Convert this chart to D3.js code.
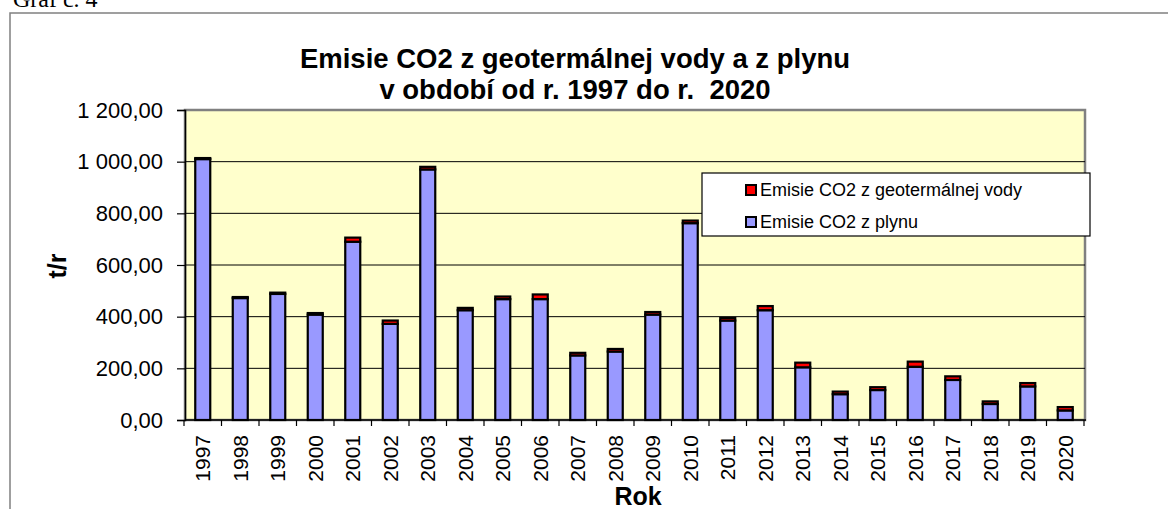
<!DOCTYPE html>
<html>
<head>
<meta charset="utf-8">
<script src="https://cdn.jsdelivr.net/npm/d3@7"></script>
<style>
  body { margin: 0; background: #fff; }
  svg { display: block; font-family: "Liberation Sans", Arial, sans-serif; }
</style>
</head>
<body>
<svg width="1168" height="509"></svg>
<script>
// data
var years = ["1997", "1998", "1999", "2000", "2001", "2002", "2003", "2004", "2005", "2006", "2007", "2008",
  "2009", "2010", "2011", "2012", "2013", "2014", "2015", "2016", "2017", "2018", "2019", "2020"];
var plyn = [1010, 472, 488, 408, 690, 372, 970, 425, 468, 468, 250, 265,
  408, 762, 385, 425, 204, 100, 116, 206, 155, 62, 130, 37];
var geo = [4, 4, 5, 6, 16, 13, 10, 9, 10, 18, 10, 10,
  10, 10, 10, 16, 18, 10, 11, 20, 14, 10, 13, 13];
var yTicks = [0, 200, 400, 600, 800, 1000, 1200];
var seriesNames = ["Emisie CO2 z geotermálnej vody", "Emisie CO2 z plynu"];
var seriesColors = ["#ff0000", "#9999ff"];

var svg = d3.select("svg");
var plot = { left: 185, right: 1085, top: 110, bottom: 420 };

// outer frame (cut by the window)
svg.append("rect")
  .attr("x", 10).attr("y", 13)
  .attr("width", 1300).attr("height", 700)
  .attr("fill", "none").attr("stroke", "#808080").attr("stroke-width", 1.5);

svg.append("text")
  .attr("x", 13).attr("y", 7)
  .attr("font-family", "Liberation Serif, Times New Roman, serif")
  .attr("font-size", 24)
  .text("Graf č. 4");

var x = d3.scaleBand().domain(years).range([plot.left - 1, plot.right - 1]).paddingInner(0.6).paddingOuter(0.3);
var y = d3.scaleLinear().domain([0, 1200]).range([plot.bottom, plot.top]);

svg.append("rect")
  .attr("x", plot.left).attr("y", plot.top)
  .attr("width", plot.right - plot.left).attr("height", plot.bottom - plot.top)
  .attr("fill", "#ffffcc").attr("stroke", "#808080").attr("stroke-width", 2.5);

// gridlines
svg.append("g")
  .selectAll("line")
  .data(yTicks.filter(function (d) { return d > 0 && d < 1200; }))
  .enter().append("line")
  .attr("x1", plot.left).attr("x2", plot.right)
  .attr("y1", function (d) { return y(d); })
  .attr("y2", function (d) { return y(d); })
  .attr("stroke", "#000").attr("stroke-width", 1);

// stacked bars
var stackData = years.map(function (yr, i) { return { year: yr, plyn: plyn[i], geo: geo[i] }; });
var stack = d3.stack().keys(["plyn", "geo"])(stackData);
var colorByKey = { plyn: seriesColors[1], geo: seriesColors[0] };

svg.append("g")
  .selectAll("g")
  .data(stack)
  .enter().append("g")
  .attr("fill", function (s) { return colorByKey[s.key]; })
  .selectAll("rect")
  .data(function (s) { return s; })
  .enter().append("rect")
  .attr("x", function (d) { return x(d.data.year); })
  .attr("width", x.bandwidth())
  .attr("y", function (d) { return y(d[1]); })
  .attr("height", function (d) { return y(d[0]) - y(d[1]); })
  .attr("stroke", "#000").attr("stroke-width", 2.2);

// y axis
var yAxis = d3.axisLeft(y)
  .tickValues(yTicks)
  .tickSize(8)
  .tickPadding(14)
  .tickFormat(function (d) {
    return d3.format(",.2f")(d).replace(/,/g, " ").replace(".", ",");
  });
var gy = svg.append("g")
  .attr("transform", "translate(" + plot.left + ",0)")
  .call(yAxis);
gy.select(".domain").attr("stroke", "#000").attr("stroke-width", 1.5);
gy.selectAll(".tick line").attr("stroke", "#000").attr("stroke-width", 1.2);
gy.selectAll(".tick text")
  .attr("font-family", "Liberation Sans, Arial, sans-serif")
  .attr("font-size", 22).attr("fill", "#000");

// x axis
var gx = svg.append("g")
  .attr("transform", "translate(0," + plot.bottom + ")");
gx.append("line")
  .attr("x1", plot.left).attr("x2", plot.right + 1)
  .attr("stroke", "#000").attr("stroke-width", 1.5);
var step = x.step();
gx.selectAll(".xt")
  .data(d3.range(years.length + 1))
  .enter().append("line")
  .attr("class", "xt")
  .attr("x1", function (i) { return plot.left - 1 + i * step; })
  .attr("x2", function (i) { return plot.left - 1 + i * step; })
  .attr("y1", 0).attr("y2", 6)
  .attr("stroke", "#000").attr("stroke-width", 1.2);
gx.selectAll(".yl")
  .data(years)
  .enter().append("text")
  .attr("class", "yl")
  .attr("transform", function (d) {
    return "translate(" + (x(d) + x.bandwidth() / 2) + ",15) rotate(-90)";
  })
  .attr("text-anchor", "end")
  .attr("dy", "0.35em")
  .attr("font-size", 21)
  .text(function (d) { return d; });

// titles
var title = svg.append("text")
  .attr("text-anchor", "middle")
  .attr("font-weight", "bold")
  .attr("font-size", 27.5)
  .style("white-space", "pre");
title.append("tspan").attr("x", 575).attr("y", 68).text("Emisie CO2 z geotermálnej vody a z plynu");
title.append("tspan").attr("x", 575).attr("y", 99).text("v období od r. 1997 do r.  2020");

svg.append("text")
  .attr("x", 638).attr("y", 505)
  .attr("text-anchor", "middle")
  .attr("font-weight", "bold").attr("font-size", 25)
  .text("Rok");

svg.append("text")
  .attr("transform", "translate(66,266) rotate(-90)")
  .attr("text-anchor", "middle")
  .attr("font-weight", "bold").attr("font-size", 25)
  .text("t/r");

// legend
var legend = svg.append("g");
legend.append("rect")
  .attr("x", 702).attr("y", 173)
  .attr("width", 388).attr("height", 63)
  .attr("fill", "#fff").attr("stroke", "#000").attr("stroke-width", 1.2);
var li = legend.selectAll(".li")
  .data(seriesNames)
  .enter().append("g")
  .attr("class", "li")
  .attr("transform", function (d, i) { return "translate(0," + (190 + i * 32) + ")"; });
li.append("rect")
  .attr("x", 746).attr("y", -5)
  .attr("width", 10).attr("height", 10)
  .attr("fill", function (d, i) { return seriesColors[i]; })
  .attr("stroke", "#000").attr("stroke-width", 2);
li.append("text")
  .attr("x", 760).attr("dy", "0.36em")
  .attr("font-size", 18)
  .text(function (d) { return d; });
</script>
</body>
</html>
